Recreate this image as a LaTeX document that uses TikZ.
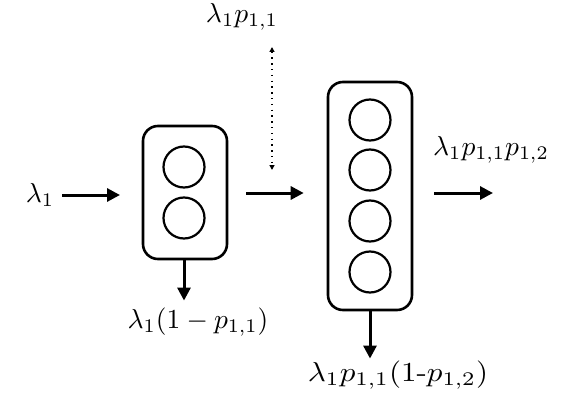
\documentclass[tikz,border=0pt]{standalone}
\usepackage{graphicx}
\usetikzlibrary{arrows.meta}
\newcommand{\lblmath}[1]{\scalebox{2.75}{$#1$}}
\begin{document}
\begin{tikzpicture}[x=1pt,y=-1pt,
  box/.style={draw, line width=2.6pt, rounded corners=15pt, minimum width=84pt, inner sep=0pt},
  srv/.style={circle, draw, line width=2.2pt, minimum size=41pt, inner sep=0pt},
  flow/.style={line width=3pt, -{Triangle[length=13pt,width=13pt]}},
  lbl/.style={inner sep=0pt}]
\useasboundingbox (0,0) rectangle (581,404);
% boxes
\node[box, minimum height=133pt] (b1) at (185,192.5) {};
\node[srv] (c11) at (184,167) {};
\node[srv] (c12) at (184,218) {};
\node[box, minimum height=228pt] (b2) at (370,196) {};
\node[srv] (c21) at (370,120) {};
\node[srv] (c22) at (370,170) {};
\node[srv] (c23) at (370,221) {};
\node[srv] (c24) at (370,272) {};
% labels
\node[lbl] (l0) at (40,195) {\lblmath{\lambda_1}};
\node[lbl] (l1) at (198,322) {\lblmath{\lambda_1(1-p_{1,1})}};
\node[lbl] (l2) at (398,375) {\scalebox{3.1}[2.75]{$\lambda_1p_{1,1}(1\mbox{-}p_{1,2})$}};
\node[lbl] (l3) at (242,17) {\lblmath{\lambda_1p_{1,1}}};
\node[lbl] (l4) at (491,150) {\lblmath{\lambda_1p_{1,1}p_{1,2}}};
% connectors
\coordinate (in) at (120,195);
\coordinate (out) at (493,193);
\coordinate (d1) at (272,47);
\coordinate (d2) at (272,170);
\draw[flow, shorten <=8pt] (l0.east |- in) -- (in);
\draw[flow, shorten <=18pt, shorten >=23pt] (b1.east |- out) -- (b2.west |- out);
\draw[flow, shorten <=21pt] (b2.east |- out) -- (out);
\draw[flow, shorten <=-1pt, shorten >=7pt] (b1.south -| c12) -- (c12 |- l1.north);
\draw[flow, shorten <=-1pt, shorten >=2pt] (b2.south) -- (b2.south |- l2.north);
\draw[line width=1.3pt, dash pattern=on 1.3pt off 4.5pt, {Triangle[length=5pt,width=5pt]}-{Triangle[length=5pt,width=5pt]}] (d1) -- (d2);
\end{tikzpicture}
\end{document}
